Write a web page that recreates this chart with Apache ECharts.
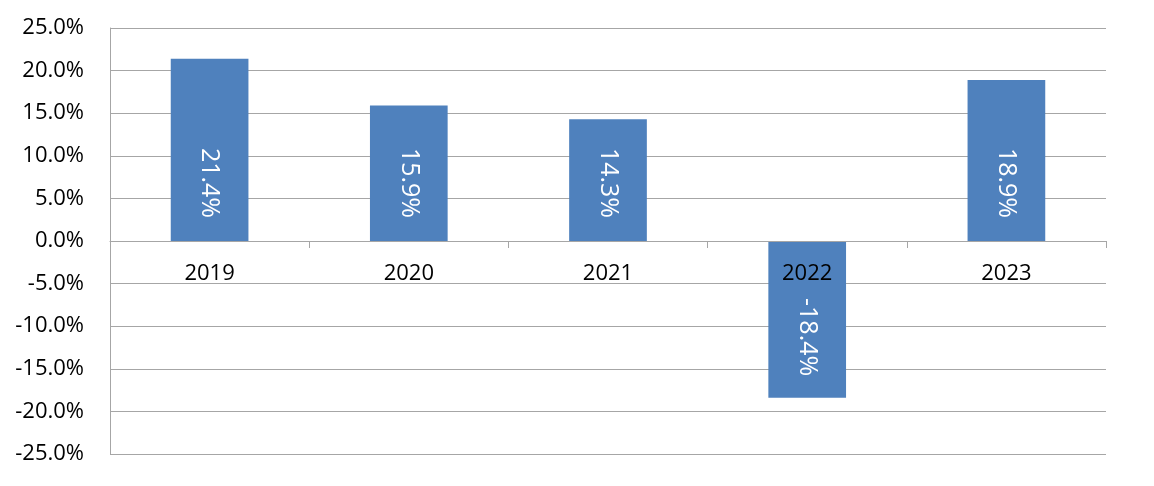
<!DOCTYPE html>
<html>
<head>
<meta charset="utf-8">
<script src="https://cdn.jsdelivr.net/npm/echarts@6/dist/echarts.min.js"></script>
<style>
html,body{margin:0;padding:0;background:#fff;}
#main{width:1154px;height:486px;}
</style>
</head>
<body>
<div id="main"></div>
<script>
const categories = ['2019', '2020', '2021', '2022', '2023'];
const returnsPct = [21.4, 15.9, 14.3, -18.4, 18.9];
const yTicks = { min: -25, max: 25, interval: 5 };

const FONT = '"Open Sans", "Noto Sans", sans-serif';
const GRID_COLOR = '#a6a6a6';
const GRID = { left: 110, right: 48, top: 28, bottom: 32 };
const PLOT_H = 486 - GRID.top - GRID.bottom;
// distance from grid bottom to the zero line, derived from the axis range
const zeroOffset = PLOT_H * (0 - yTicks.min) / (yTicks.max - yTicks.min);

const barData = returnsPct.map(function (v) {
  const positive = v >= 0;
  return {
    value: v,
    label: positive
      ? { position: 'insideBottom', distance: 23, align: 'right' }
      : { position: 'insideTop', distance: 57, align: 'left' }
  };
});

const chart = echarts.init(document.getElementById('main'), null, { renderer: 'canvas' });
chart.setOption({
  animation: false,
  backgroundColor: '#ffffff',
  grid: Object.assign({ containLabel: false, outerBoundsMode: 'none' }, GRID),
  xAxis: {
    type: 'category',
    data: categories,
    boundaryGap: true,
    position: 'bottom',
    offset: -zeroOffset,
    z: 10,
    axisLine: { onZero: false, lineStyle: { color: GRID_COLOR, width: 1 } },
    axisTick: { show: true, length: 7, lineStyle: { color: GRID_COLOR } },
    axisLabel: { color: '#000', fontSize: 22, fontFamily: FONT, margin: 22 },
    splitLine: { show: false }
  },
  yAxis: {
    type: 'value',
    min: yTicks.min,
    max: yTicks.max,
    interval: yTicks.interval,
    axisLine: { show: true, lineStyle: { color: GRID_COLOR, width: 1 } },
    axisTick: { show: false },
    axisLabel: {
      color: '#000', fontSize: 22, fontFamily: FONT, margin: 26,
      formatter: function (v) { return v.toFixed(1) + '%'; }
    },
    splitLine: { show: true, lineStyle: { color: GRID_COLOR, width: 1 } }
  },
  series: [{
    type: 'bar',
    data: barData,
    barWidth: '39%',
    itemStyle: { color: '#4f81bd' },
    label: {
      show: true,
      rotate: -90,
      color: '#ffffff',
      fontSize: 25,
      fontFamily: FONT,
      verticalAlign: 'middle',
      formatter: function (p) { return p.value.toFixed(1) + '%'; }
    }
  }]
});
</script>
</body>
</html>
